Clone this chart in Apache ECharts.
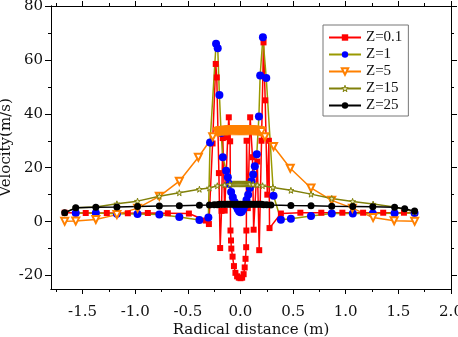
<!DOCTYPE html>
<html>
<head>
<meta charset="utf-8">
<script src="https://cdn.jsdelivr.net/npm/echarts@6/dist/echarts.min.js"></script>
<style>
html, body { margin: 0; padding: 0; background: #fff; }
#chart { width: 458px; height: 337px; }
</style>
</head>
<body>
<div id="chart"></div>
<script>
// tick positions
var xMajor = [-1.5, -1.0, -0.5, 0, 0.5, 1.0, 1.5, 2.0];
var xMinor = [-1.75, -1.25, -0.75, -0.25, 0.25, 0.75, 1.25, 1.75];
var yMajor = [-20, 0, 20, 40, 60, 80];
var yMinor = [-10, 10, 30, 50, 70];

var names = ['Z=0.1', 'Z=1', 'Z=5', 'Z=15', 'Z=25'];

// Z=0.1
var z01 = [[-1.67,3.3],[-1.47,3.2],[-1.27,3.2],[-1.07,3.1],[-0.88,3.2],[-0.69,3.1],[-0.49,3.0],
  [-0.33,0.4],[-0.30,-0.9],[-0.265,29],[-0.235,58.5],[-0.225,53.5],[-0.205,18],[-0.193,-9.8],
  [-0.18,4],[-0.168,31],[-0.15,4.1],[-0.121,31.3],[-0.111,38.7],[-0.098,29.8],[-0.095,-3.3],
  [-0.09,-7],[-0.087,-10],[-0.075,-13],[-0.062,-16.5],[-0.048,-19],[-0.032,-20.3],[-0.016,-20.8],
  [0,-21],[0.016,-20.8],[0.03,-19.5],[0.04,-17],[0.048,-13.8],[0.054,-9.5],[0.056,-3.3],
  [0.058,30],[0.07,5],[0.092,38.7],[0.114,23.9],[0.125,-3],[0.16,22.3],[0.178,-10.6],[0.2,30],
  [0.219,66.5],[0.235,45],[0.255,10],[0.27,30],[0.276,-2.4],[0.384,3.0],[0.569,3.3],[0.768,3.3],
  [0.968,3.3],[1.165,3.3],[1.356,3.3],[1.553,3.3],[1.655,3.3]];

// Z=1
var z1 = [[-1.565,3.2],[-1.374,3.2],[-1.174,2.9],[-0.978,2.8],[-0.771,2.6],[-0.581,1.7],[-0.39,0.6],
  [-0.305,1.5],[-0.289,29.4],[-0.232,66],[-0.216,64.3],[-0.2,47],[-0.184,32.9],[-0.168,23.9],
  [-0.136,18.9],[-0.12,16.5],[-0.105,14],[-0.089,11],[-0.073,9],[-0.057,7.3],[-0.042,5.8],
  [-0.026,4.6],[-0.013,3.8],[0,3.5],[0.013,3.8],[0.026,4.6],[0.042,6],[0.057,8],[0.073,10],
  [0.089,12.5],[0.105,15],[0.12,17.5],[0.136,20.5],[0.155,25],[0.175,39],[0.187,54.2],
  [0.213,68.4],[0.245,53.3],[0.314,9.6],[0.384,0.7],[0.479,1.1],[0.67,2.1],[0.867,3.0],
  [1.067,3.0],[1.257,3.0],[1.464,3.1],[1.654,3.2]];

// Z=5
var z5 = [[-1.67,0.1],[-1.565,0.2],[-1.374,0.8],[-1.174,2.6],[-0.978,5.0],[-0.771,9.4],[-0.581,15.0],
  [-0.4,23.9],[-0.264,31.5],[-0.22,33.2],[-0.21,33.4],[-0.2,33.6],[-0.19,33.7],[-0.18,33.8],
  [-0.17,33.8],[-0.16,33.8],[-0.15,33.9],[-0.14,33.9],[-0.13,33.9],[-0.12,33.9],[-0.11,34],
  [-0.1,34],[-0.09,34],[-0.08,34],[-0.07,34],[-0.06,34],[-0.05,34],[-0.04,34],[-0.03,34],
  [-0.02,34],[-0.01,34],[0,34],[0.01,34],[0.02,34],[0.03,34],[0.04,34],[0.05,34],[0.06,34],
  [0.07,34],[0.08,34],[0.09,34],[0.1,34],[0.11,34],[0.12,33.9],[0.13,33.9],[0.14,33.9],
  [0.15,33.9],[0.16,33.8],[0.17,33.8],[0.18,33.7],[0.19,33.6],[0.2,33.4],
  [0.232,31.5],[0.314,27.9],[0.473,19.8],[0.67,12.5],[0.867,7.9],[1.063,5.0],[1.26,1.5],
  [1.46,0.3],[1.655,0.1]];

// Z=15
var z15 = [[-1.67,3.3],[-1.565,5.1],[-1.374,5.4],[-1.174,6.6],[-0.978,7.6],[-0.771,9.4],[-0.581,10.7],
  [-0.39,12.0],[-0.295,12.5],[-0.22,13.3],[-0.15,13.6],[-0.1,13.8],[-0.07,14],[-0.06,14],[-0.05,14],
  [-0.04,14],[-0.03,14],[-0.02,14],[-0.01,14],[0,14],[0.01,14],[0.02,14],[0.03,14],[0.04,14],
  [0.05,14],[0.06,14],[0.07,14],[0.08,14],[0.09,14],[0.12,13.8],[0.16,13.6],[0.21,13.3],
  [0.308,12.7],[0.479,11.6],[0.67,10.2],[0.867,8.6],[1.065,7.5],[1.26,6.5],[1.46,5.4],[1.655,3.7]];

// Z=25
var z25 = [[-1.67,3.3],[-1.565,5.1],[-1.374,5.3],[-1.174,5.4],[-0.978,5.6],[-0.771,5.8],[-0.581,5.9],
  [-0.39,6.1],[-0.295,6.2],[-0.25,6.3],[-0.22,6.3],[-0.2,6.4],[-0.18,6.4],[-0.16,6.4],[-0.14,6.4],
  [-0.12,6.4],[-0.1,6.4],[-0.08,6.4],[-0.06,6.4],[-0.04,6.4],[-0.02,6.4],[0,6.4],[0.02,6.4],
  [0.04,6.4],[0.06,6.4],[0.08,6.4],[0.1,6.4],[0.12,6.4],[0.14,6.4],[0.16,6.4],[0.18,6.4],
  [0.2,6.4],[0.22,6.3],[0.25,6.3],[0.289,6.2],[0.479,6.0],[0.67,5.9],[0.867,5.7],[1.067,5.6],
  [1.257,5.5],[1.464,5.3],[1.56,4.8],[1.654,3.9]];

var font = 'DejaVu Serif';
var starPath = 'path://M50,0 L61,35 L98,35 L68,57 L79,91 L50,70 L21,91 L32,57 L2,35 L39,35 Z';

function xAxisOf(pos, ticks, len, labels) {
    return {
        type: 'value',
        position: pos,
        min: -1.8,
        max: 2.0,
        axisLine: { show: true, onZero: false, lineStyle: { color: '#000', width: 1 } },
        axisTick: { show: true, customValues: ticks, length: len, lineStyle: { color: '#000' } },
        axisLabel: {
            show: labels,
            customValues: ticks,
            margin: 10,
            fontFamily: font,
            fontSize: 15,
            color: '#111',
            formatter: function (v) { return '{t|' + v.toFixed(1) + '}'; },
            rich: {
                t: { fontFamily: font, fontSize: 15, color: '#111', padding: [6, 0, 0, 0] }
            }
        },
        splitLine: { show: false }
    };
}

function yAxisOf(pos, ticks, len, labels) {
    return {
        type: 'value',
        position: pos,
        min: -25,
        max: 80,
        axisLine: { show: true, onZero: false, lineStyle: { color: '#000', width: 1 } },
        axisTick: { show: true, customValues: ticks, length: len, lineStyle: { color: '#000' } },
        axisLabel: {
            show: labels,
            customValues: ticks,
            margin: 8,
            fontFamily: font,
            fontSize: 15,
            color: '#111'
        },
        splitLine: { show: false }
    };
}

var xBottom = xAxisOf('bottom', xMajor, 5, true);
xBottom.name = 'Radical distance (m)';
xBottom.nameLocation = 'middle';
xBottom.nameGap = 34;
xBottom.nameMoveOverlap = false;
xBottom.nameTextStyle = { fontFamily: font, fontSize: 15, color: '#111' };

var yLeft = yAxisOf('left', yMajor, 6, true);
yLeft.name = 'Velocity(m/s)';
yLeft.nameLocation = 'middle';
yLeft.nameGap = 37;
yLeft.nameMoveOverlap = false;
yLeft.nameTextStyle = { fontFamily: font, fontSize: 15, color: '#111' };

var chart = echarts.init(document.getElementById('chart'));
var option = {
    animation: false,
    backgroundColor: '#fff',
    grid: { left: 51, right: 7, top: 6, bottom: 48, outerBoundsMode: 'none', containLabel: false },
    legend: {
        orient: 'vertical',
        left: 323,
        top: 25,
        padding: [5, 6, 3, 5],
        itemGap: 2,
        itemWidth: 32,
        itemHeight: 8,
        borderColor: '#777',
        borderWidth: 1,
        borderRadius: 0,
        backgroundColor: '#fff',
        itemStyle: { borderWidth: 1 },
        textStyle: { fontFamily: 'Liberation Serif', fontSize: 15, color: '#111', lineHeight: 15 },
        data: names
    },
    xAxis: [
        xBottom,
        xAxisOf('bottom', xMinor, 3, false),
        xAxisOf('top', xMajor, 5, false),
        xAxisOf('top', xMinor, 3, false)
    ],
    yAxis: [
        yLeft,
        yAxisOf('left', yMinor, 3, false),
        yAxisOf('right', yMajor, 6, false),
        yAxisOf('right', yMinor, 3, false)
    ],
    series: [
        {
            name: names[0], type: 'line', data: z01,
            symbol: 'rect', symbolSize: 6,
            lineStyle: { color: '#ff0000', width: 1.5 },
            itemStyle: { color: '#ff0000' }
        },
        {
            name: names[1], type: 'line', data: z1,
            symbol: 'circle', symbolSize: 8,
            lineStyle: { color: '#999900', width: 1.5 },
            itemStyle: { color: '#0000ff' }
        },
        {
            name: names[2], type: 'line', data: z5,
            symbol: 'emptyTriangle', symbolSize: 7, symbolRotate: 180,
            lineStyle: { color: '#ff8000', width: 1.5 },
            itemStyle: { color: '#ff8000', borderWidth: 1.2 }
        },
        {
            name: names[3], type: 'line', data: z15,
            symbol: starPath, symbolSize: 6,
            lineStyle: { color: '#80800a', width: 1.5 },
            itemStyle: { color: '#ecebc0', borderColor: '#80800a', borderWidth: 1 }
        },
        {
            name: names[4], type: 'line', data: z25,
            symbol: 'circle', symbolSize: 7,
            lineStyle: { color: '#000', width: 1.5 },
            itemStyle: { color: '#000' }
        }
    ]
};
chart.setOption(option);
</script>
</body>
</html>
